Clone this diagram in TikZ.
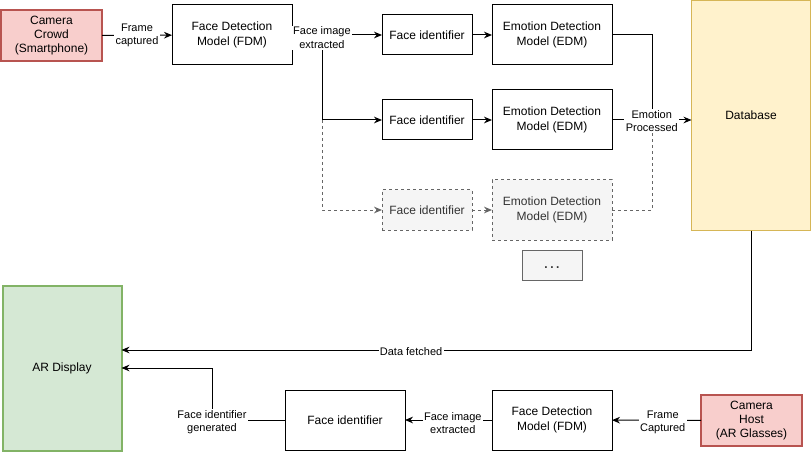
\documentclass[tikz,border=0pt]{standalone}
\usepackage{fontspec}
\setmainfont{Liberation Sans}
\usetikzlibrary{arrows.meta,calc}
\definecolor{redfill}{HTML}{F8CECC}
\definecolor{redline}{HTML}{B85450}
\definecolor{greenfill}{HTML}{D5E8D4}
\definecolor{greenline}{HTML}{82B366}
\definecolor{yelfill}{HTML}{FFF2CC}
\definecolor{yelline}{HTML}{D6B656}
\definecolor{grayfill}{HTML}{F5F5F5}
\definecolor{grayline}{HTML}{666666}
\definecolor{graytext}{HTML}{333333}
\tikzset{
  sz/.style 2 args={minimum width=#1*0.75pt, minimum height=#2*0.75pt},
  box/.style={draw, line width=0.75pt, align=center, inner sep=0pt, outer sep=0pt,
    font=\fontsize{9}{10.8}\selectfont},
  redbox/.style={box, fill=redfill, draw=redline, line width=1.5pt},
  greenbox/.style={box, fill=greenfill, draw=greenline, line width=1.5pt},
  yelbox/.style={box, fill=yelfill, draw=yelline},
  graybox/.style={box, fill=grayfill, draw=grayline, text=graytext, dash pattern=on 2.25pt off 2.25pt},
  dotbox/.style={box, fill=grayfill, draw=grayline, text=graytext},
  line/.style={draw, line width=0.75pt},
  arr/.style={line, -{Stealth[length=6pt,width=5pt]}},
  dline/.style={line, draw=grayline, dash pattern=on 2.25pt off 2.25pt},
  darr/.style={dline, -{Stealth[length=6pt,width=5pt]}, color=grayline},
  lbl/.style={fill=white, inner sep=1pt, align=center, font=\fontsize{8.25}{9.9}\selectfont},
}
\begin{document}
\begin{tikzpicture}[x=0.75pt,y=-0.75pt]
\useasboundingbox (0,0) rectangle (812,452);
% nodes
\node[redbox, sz={101}{51}] (cc) at (51.5,35.5) {Camera\\Crowd\\(Smartphone)};
\node[box, sz={120}{60}] (fdm1) at (232,35) {Face Detection\\Model (FDM)};
\node[box, sz={90}{40}] (fi1) at (427,35) {Face identifier};
\node[box, sz={120}{60}] (edm1) at (552,35) {Emotion Detection\\Model (EDM)};
\node[box, sz={90}{40}] (fi2) at (427,120) {Face identifier};
\node[box, sz={120}{60}] (edm2) at (552,120) {Emotion Detection\\Model (EDM)};
\node[graybox, sz={90}{40}] (fi3) at (427,210) {Face identifier};
\node[graybox, sz={120}{60}] (edm3) at (552,210) {Emotion Detection\\Model (EDM)};
\node[dotbox, sz={60}{30}, font=\fontsize{13}{15}\selectfont] (dots) at (552,265) {\raisebox{-5pt}{.\hspace{0.8pt}.\hspace{0.8pt}.}};
\node[yelbox, sz={119}{230}] (db) at (751,115.5) {Database};
\node[greenbox, sz={119}{165}] (ar) at (62,368) {AR Display};
\node[box, sz={120}{60}] (fib) at (345,420) {Face identifier};
\node[box, sz={120}{60}] (fdm2) at (552,420) {Face Detection\\Model (FDM)};
\node[redbox, sz={101}{51}] (ch) at (751.5,420.5) {Camera\\Host\\(AR Glasses)};
% coordinates
\coordinate (br) at (322,35);
\coordinate (br2) at (322,120);
\coordinate (j) at (652,120);
\coordinate (c1) at (212,368);
% connectors (branches first)
\draw[darr] (br2) |- (fi3);
\draw[arr] (br) |- (fi2);
\draw[arr] (fdm1) -- (fi1);
\path (fdm1.east) -- (fi1.west) node[lbl, pos=0.333, yshift=-2pt] {Face image\\extracted};
\draw[arr] (cc) -- (fdm1) node[lbl, midway] {Frame\\captured};
\draw[arr] (fi1) -- (edm1);
\draw[arr] (fi2) -- (edm2);
\draw[darr] (fi3) -- (edm3);
\draw[dline] (edm3.east) -| (j);
\draw[line] (edm1.east) -| (j);
\draw[arr] (edm2.east) -- (edm2.east -| db.west) node[lbl, midway, yshift=-1pt] {Emotion\\Processed};
\draw[arr] (db.south) |- ($(ar.east)+(0,-18)$) node[lbl, pos=0.77, yshift=-1pt] {Data fetched};
\draw[arr] (fib.west) -| node[lbl, pos=0.5, yshift=-1.5pt] {Face identifier\\generated} (c1) -- (ar.east);
\draw[arr] (fdm2) -- (fib) node[lbl, pos=0.45, yshift=-2pt] {Face image\\extracted};
\draw[arr] (ch) -- (fdm2) node[lbl, pos=0.43, yshift=-1.5pt] {Frame\\Captured};
\end{tikzpicture}
\end{document}
